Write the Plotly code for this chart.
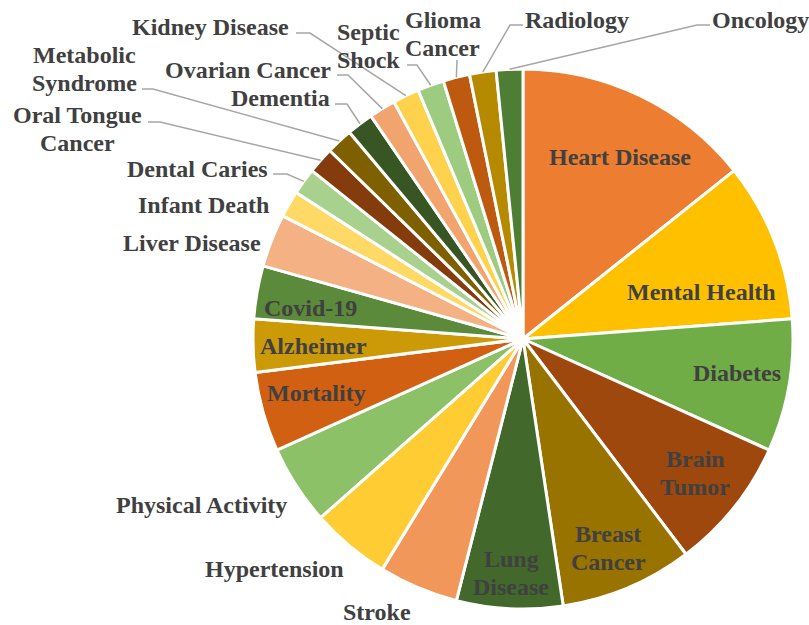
import math
import plotly.graph_objects as go

# ---------------- data ----------------
categories = [
    "Heart Disease", "Mental Health", "Diabetes", "Brain Tumor", "Breast Cancer",
    "Lung Disease", "Stroke", "Hypertension", "Physical Activity", "Mortality",
    "Alzheimer", "Covid-19", "Liver Disease", "Infant Death", "Dental Caries",
    "Oral Tongue Cancer", "Metabolic Syndrome", "Dementia", "Ovarian Cancer",
    "Kidney Disease", "Septic Shock", "Glioma Cancer", "Radiology", "Oncology",
]
counts = [9, 6, 5, 5, 5, 4, 3, 3, 3, 3, 2, 2, 2, 1, 1, 1, 1, 1, 1, 1, 1, 1, 1, 1]

# label lines as displayed (line breaks as in the reference)
label_lines = {
    "Brain Tumor": ["Brain", "Tumor"],
    "Breast Cancer": ["Breast", "Cancer"],
    "Lung Disease": ["Lung", "Disease"],
    "Oral Tongue Cancer": ["Oral Tongue", "Cancer"],
    "Metabolic Syndrome": ["Metabolic", "Syndrome"],
    "Septic Shock": ["Septic", "Shock"],
    "Glioma Cancer": ["Glioma", "Cancer"],
}

# ---------------- style ----------------
colors = [
    "#ED7D31", "#FFC000", "#70AD47", "#9E480E", "#997300", "#43682B",
    "#F1975A", "#FFCD33", "#8CC168", "#D26012", "#CC9A06", "#5A8A3A",
    "#F4B183", "#FFD966", "#A9D18E", "#843C0C", "#7F6000", "#375623",
    "#F2A46E", "#FFD24D", "#9DCB7F", "#BE5A0F", "#B58A00", "#4E7E33",
]

W, H = 809, 625
CX, CY, R = 523, 339, 270  # pie centre / radius in pixels
LINE_GAP = 28
FONT = dict(family="Liberation Serif, Times New Roman, serif", size=24, color="#404040")

# label centres (pixels)
label_pos = {
    "Heart Disease": (620, 157), "Mental Health": (701, 292), "Diabetes": (737, 373),
    "Brain Tumor": (695, 473), "Breast Cancer": (608, 548), "Lung Disease": (511, 573),
    "Stroke": (377, 612), "Hypertension": (274, 569), "Physical Activity": (201, 505),
    "Mortality": (316, 393), "Alzheimer": (313, 346), "Covid-19": (310, 308),
    "Liver Disease": (192, 243), "Infant Death": (204, 205), "Dental Caries": (197, 169),
    "Oral Tongue Cancer": (77, 129), "Metabolic Syndrome": (84, 69), "Dementia": (280, 98),
    "Ovarian Cancer": (248, 70), "Kidney Disease": (211, 27), "Septic Shock": (368, 46),
    "Glioma Cancer": (443, 34), "Radiology": (577, 20), "Oncology": (760, 20),
}

# leader line start and elbow (pixels); the end is the slice's outer midpoint
leader = {
    "Kidney Disease": [(296, 33), (310, 33)],
    "Metabolic Syndrome": [(142, 89), (153, 89)],
    "Ovarian Cancer": [(337, 75), (348, 75)],
    "Dementia": [(335, 104), (347, 104)],
    "Oral Tongue Cancer": [(148, 122), (160, 122)],
    "Dental Caries": [(273, 174), (287, 174)],
    "Septic Shock": [(407, 65), (417, 65)],
    "Glioma Cancer": [(457, 60)],
    "Radiology": [(523, 25), (510, 25)],
    "Oncology": [(710, 25), (697, 25)],
}


def px(x, y):
    return x / W, 1 - y / H


fig = go.Figure(
    go.Pie(
        labels=categories,
        values=counts,
        sort=False,
        direction="clockwise",
        rotation=0,
        marker=dict(colors=colors, line=dict(color="white", width=3)),
        textinfo="none",
        showlegend=False,
        domain=dict(x=[(CX - R) / W, (CX + R) / W], y=[1 - (CY + R) / H, 1 - (CY - R) / H]),
    )
)

total = sum(counts)
cum = 0
annotations = []
shapes = []
for cat, v in zip(categories, counts):
    mid = (cum + v / 2) / total * 2 * math.pi
    cum += v
    ex, ey = CX + R * math.sin(mid), CY - R * math.cos(mid)
    lx, ly = label_pos[cat]
    lines = label_lines.get(cat, [cat])
    n = len(lines)
    for i, line in enumerate(lines):
        yy = ly + (i - (n - 1) / 2) * LINE_GAP
        x, y = px(lx, yy)
        annotations.append(dict(
            x=x, y=y, xref="paper", yref="paper", text="<b>" + line + "</b>",
            showarrow=False, xanchor="center", yanchor="middle", align="center", font=FONT,
        ))
    if cat in leader:
        pts = leader[cat] + [(ex, ey)]
        path = "M " + " L ".join("%.5f,%.5f" % px(a, b) for a, b in pts)
        shapes.append(dict(type="path", path=path, xref="paper", yref="paper",
                           line=dict(color="#A6A6A6", width=1.5)))

fig.update_layout(
    width=W, height=H,
    margin=dict(l=0, r=0, t=0, b=0),
    paper_bgcolor="white", plot_bgcolor="white",
    annotations=annotations, shapes=shapes,
)

fig.write_html(
    "out.html",
    config={"displayModeBar": False},
    post_script="document.body.style.margin='0';document.body.style.padding='0';",
)
